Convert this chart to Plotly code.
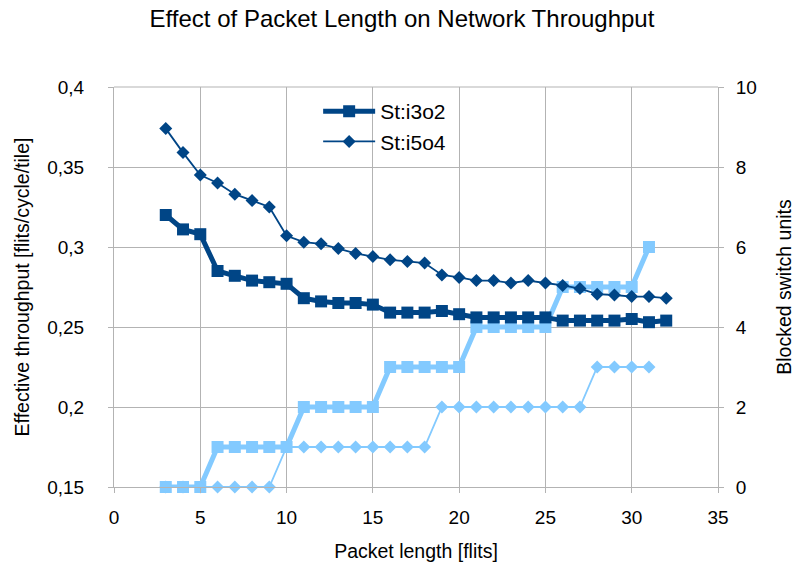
import plotly.graph_objects as go

# Packet lengths (flits)
lengths = list(range(3, 33))
blocked_lengths = list(range(3, 32))

# Effective throughput [flits/cycle/tile]
thr_i3o2 = [0.320, 0.311, 0.308, 0.285, 0.282, 0.279, 0.278, 0.277, 0.268, 0.266,
            0.265, 0.265, 0.264, 0.259, 0.259, 0.259, 0.260, 0.258, 0.256, 0.256,
            0.256, 0.256, 0.256, 0.254, 0.254, 0.254, 0.254, 0.255, 0.253, 0.254]
thr_i5o4 = [0.374, 0.359, 0.345, 0.340, 0.333, 0.329, 0.325, 0.307, 0.303, 0.302,
            0.299, 0.296, 0.294, 0.292, 0.291, 0.290, 0.2825, 0.281, 0.279, 0.279,
            0.2775, 0.279, 0.2775, 0.276, 0.274, 0.2705, 0.270, 0.269, 0.269, 0.268]

# Blocked switch units
blk_i3o2 = [0, 0, 0, 1, 1, 1, 1, 1, 2, 2, 2, 2, 2, 3, 3, 3, 3, 3, 4, 4,
            4, 4, 4, 5, 5, 5, 5, 5, 6]
blk_i5o4 = [0, 0, 0, 0, 0, 0, 0, 1, 1, 1, 1, 1, 1, 1, 1, 1, 2, 2, 2, 2,
            2, 2, 2, 2, 2, 3, 3, 3, 3]

series_names = ["St:i3o2", "St:i5o4"]
left_ticks = [0.15, 0.2, 0.25, 0.3, 0.35, 0.4]
left_ticktext = ["0,15", "0,2", "0,25", "0,3", "0,35", "0,4"]
right_ticks = [0, 2, 4, 6, 8, 10]
x_ticks = [0, 5, 10, 15, 20, 25, 30, 35]

DARK = "#004586"
LIGHT = "#83CAFF"
GRID = "#b3b3b3"
FONT = "Liberation Sans, Arial, sans-serif"

fig = go.Figure()

# Blocked units (right axis, drawn underneath)
fig.add_trace(go.Scatter(
    x=blocked_lengths, y=blk_i3o2, mode="lines+markers", yaxis="y",
    line=dict(color=LIGHT, width=5), marker=dict(symbol="square", size=12, color=LIGHT),
    showlegend=False, cliponaxis=False))
fig.add_trace(go.Scatter(
    x=blocked_lengths, y=blk_i5o4, mode="lines+markers", yaxis="y",
    line=dict(color=LIGHT, width=1.8), marker=dict(symbol="diamond", size=10, color=LIGHT),
    showlegend=False, cliponaxis=False))

# Throughput (left axis)
fig.add_trace(go.Scatter(
    x=lengths, y=thr_i3o2, mode="lines+markers", yaxis="y2", name=series_names[0],
    legendgroup="a",
    line=dict(color=DARK, width=5), marker=dict(symbol="square", size=12, color=DARK),
    cliponaxis=False))
fig.add_trace(go.Scatter(
    x=lengths, y=thr_i5o4, mode="lines+markers", yaxis="y2", name=series_names[1],
    legendgroup="b",
    line=dict(color=DARK, width=1.8), marker=dict(symbol="diamond", size=10, color=DARK),
    cliponaxis=False))

fig.update_layout(
    width=804, height=575,
    margin=dict(l=114, r=81, t=87, b=88),
    paper_bgcolor="white", plot_bgcolor="white",
    font=dict(family=FONT, color="#000000", size=19),
    title=dict(text="Effect of Packet Length on Network Throughput",
               x=0.5, xanchor="center", y=0.968, yanchor="middle",
               font=dict(size=24, family=FONT)),
    xaxis=dict(
        range=[0, 35], tickvals=x_ticks, showgrid=True, gridcolor=GRID, gridwidth=1,
        showline=True, linecolor=GRID, linewidth=1, mirror=False,
        ticks="outside", ticklen=5, tickcolor=GRID, zeroline=False,
        tickfont=dict(size=19), ticklabelstandoff=8,
        title=dict(text="Packet length [flits]", font=dict(size=19.5), standoff=17),
        anchor="y",
    ),
    yaxis=dict(
        range=[0, 10], tickvals=right_ticks, side="right",
        showgrid=True, gridcolor=GRID, gridwidth=1,
        showline=True, linecolor=GRID, linewidth=1,
        ticks="outside", ticklen=5, tickcolor=GRID, zeroline=False,
        tickfont=dict(size=19), ticklabelstandoff=8,
        title=dict(text="Blocked switch units", font=dict(size=19.5), standoff=21),
    ),
    yaxis2=dict(
        range=[0.15, 0.4], tickvals=left_ticks, ticktext=left_ticktext,
        side="left", overlaying="y", showgrid=False,
        showline=True, linecolor=GRID, linewidth=1,
        ticks="outside", ticklen=5, tickcolor=GRID, zeroline=False,
        tickfont=dict(size=19), ticklabelstandoff=20,
        title=dict(text="Effective throughput [flits/cycle/tile]", font=dict(size=19.5), standoff=12),
    ),
    legend=dict(x=0.338, y=0.99, xanchor="left", yanchor="top",
                bgcolor="rgba(0,0,0,0)", borderwidth=0,
                font=dict(size=21), tracegroupgap=0, itemwidth=52),
    showlegend=True,
)

# top border line at 0.4
fig.add_shape(type="line", xref="paper", yref="paper", x0=0, x1=1, y0=1, y1=1,
              line=dict(color=GRID, width=1))

fig.write_html("out.html")
